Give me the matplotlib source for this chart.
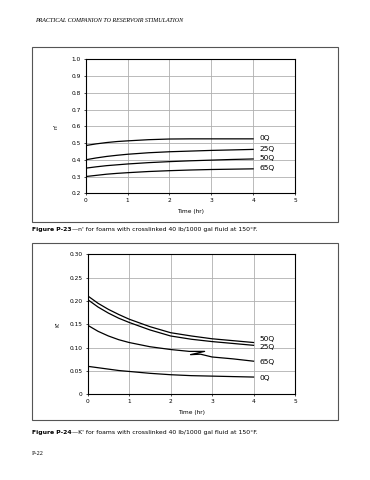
import matplotlib
matplotlib.use('Agg')
import matplotlib.pyplot as plt
from matplotlib.patches import Rectangle

# Figure P-23: n' vs time
time = [0, 0.25, 0.5, 0.75, 1, 1.5, 2, 2.5, 3, 3.5, 4]
n_0Q = [0.485, 0.495, 0.503, 0.509, 0.513, 0.520, 0.524, 0.525, 0.525, 0.525, 0.525]
n_25Q = [0.400, 0.411, 0.420, 0.427, 0.433, 0.442, 0.448, 0.452, 0.456, 0.459, 0.462]
n_50Q = [0.350, 0.358, 0.365, 0.370, 0.375, 0.383, 0.389, 0.394, 0.398, 0.402, 0.405]
n_65Q = [0.300, 0.307, 0.314, 0.319, 0.323, 0.330, 0.335, 0.339, 0.342, 0.344, 0.346]
n_labels = ['0Q', '25Q', '50Q', '65Q']
n_label_y = [0.528, 0.463, 0.408, 0.352]

# Figure P-24: K' vs time
K_50Q = [0.211, 0.195, 0.182, 0.171, 0.161, 0.145, 0.132, 0.125, 0.119, 0.115, 0.111]
K_25Q = [0.203, 0.187, 0.174, 0.163, 0.154, 0.138, 0.125, 0.118, 0.113, 0.109, 0.105]
K_0Q = [0.060, 0.057, 0.054, 0.051, 0.049, 0.045, 0.042, 0.040, 0.039, 0.038, 0.037]
# 65Q curve, including the small break mark drawn in the original
time_65Q = [0, 0.25, 0.5, 0.75, 1, 1.5, 2, 2.45, 2.82, 2.48, 2.72, 3, 3.5, 4]
K_65Q = [0.148, 0.135, 0.125, 0.117, 0.111, 0.102, 0.096, 0.092, 0.092, 0.085, 0.086,
         0.080, 0.076, 0.071]
K_labels = ['50Q', '25Q', '65Q', '0Q']
K_label_y = [0.1175, 0.1015, 0.070, 0.036]

fig = plt.figure(figsize=(3.7, 4.8), dpi=100)
fig.patch.set_facecolor('white')

tick_fs = 4.2
lab_fs = 5.4
cap_fs = 4.4


def style(ax, ylim, yticks, yticklabels):
    ax.set_xlim(0, 5)
    ax.set_ylim(*ylim)
    ax.set_xticks(range(6))
    ax.set_yticks(yticks)
    ax.set_yticklabels(yticklabels)
    ax.tick_params(labelsize=tick_fs, length=1.5, width=0.5, pad=2)
    ax.grid(True, color='#b0b0b0', lw=0.6)
    ax.set_axisbelow(True)
    for s in ax.spines.values():
        s.set_linewidth(0.8)
    ax.set_xlabel('Time (hr)', fontsize=tick_fs, labelpad=4)


# top box + chart
fig.add_artist(Rectangle((0.0865, 0.5375), 0.827, 0.365, transform=fig.transFigure,
                         fill=False, ec='#555555', lw=0.8))
ax1 = fig.add_axes([0.2316, 0.5973, 0.5657, 0.2792])
for vals in [n_0Q, n_25Q, n_50Q, n_65Q]:
    ax1.plot(time, vals, color='black', lw=0.9)
for lab, y in zip(n_labels, n_label_y):
    ax1.text(4.15, y, lab, fontsize=lab_fs, va='center', ha='left')
style(ax1, (0.2, 1.0), [0.2 + 0.1 * i for i in range(9)],
      ['0.2', '0.3', '0.4', '0.5', '0.6', '0.7', '0.8', '0.9', '1.0'])
ax1.set_ylabel("n'", fontsize=tick_fs, labelpad=9)

# bottom box + chart
fig.add_artist(Rectangle((0.0865, 0.125), 0.827, 0.369, transform=fig.transFigure,
                         fill=False, ec='#555555', lw=0.8))
ax2 = fig.add_axes([0.237, 0.1785, 0.5603, 0.2917])
for vals in [K_50Q, K_25Q, K_0Q]:
    ax2.plot(time, vals, color='black', lw=0.9)
ax2.plot(time_65Q, K_65Q, color='black', lw=0.9)
for lab, y in zip(K_labels, K_label_y):
    ax2.text(4.15, y, lab, fontsize=lab_fs, va='center', ha='left')
style(ax2, (0, 0.30), [0, 0.05, 0.10, 0.15, 0.20, 0.25, 0.30],
      ['0', '0.05', '0.10', '0.15', '0.20', '0.25', '0.30'])
ax2.set_ylabel("K'", fontsize=tick_fs, labelpad=7)

# page text
fig.text(0.095, 0.958, 'PRACTICAL COMPANION TO RESERVOIR STIMULATION',
         fontsize=4.3, style='italic', family='Liberation Serif', va='center')

# captions: bold figure number followed by plain text
captions = [(0.521, 'Figure P-23', "\u2014n' for foams with crosslinked 40 lb/1000 gal fluid at 150\u00b0F."),
            (0.098, 'Figure P-24', "\u2014K' for foams with crosslinked 40 lb/1000 gal fluid at 150\u00b0F.")]
fig.canvas.draw()
renderer = fig.canvas.get_renderer()
for y, head, rest in captions:
    t = fig.text(0.0865, y, head, fontsize=cap_fs, weight='bold', va='center')
    bb = t.get_window_extent(renderer=renderer)
    x_end = fig.transFigure.inverted().transform((bb.x1, bb.y0))[0]
    fig.text(x_end, y, rest, fontsize=cap_fs, va='center')

fig.text(0.0865, 0.056, 'P-22', fontsize=4.5, family='Liberation Serif', va='center')

fig.savefig('out.png', dpi=100)
